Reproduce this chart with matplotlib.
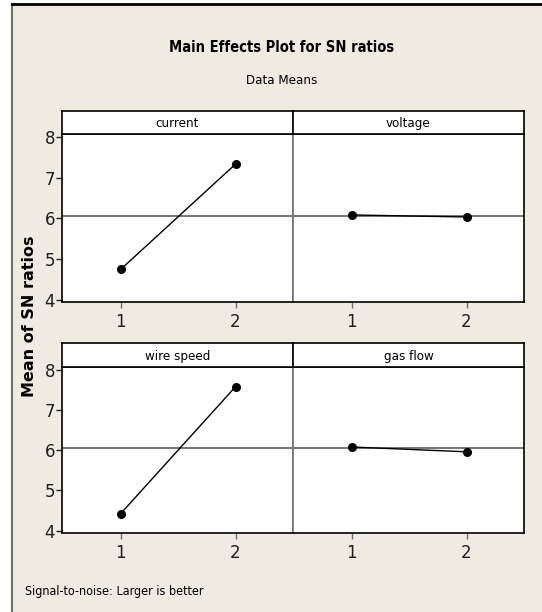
import matplotlib.pyplot as plt
from matplotlib.patches import Rectangle
from matplotlib.lines import Line2D

# Data
levels = [1, 2]
factors = ['current', 'voltage', 'wire speed', 'gas flow']
current = [4.74, 7.33]
voltage = [6.08, 6.03]
wire_speed = [4.42, 7.58]
gas_flow = [6.08, 5.96]
grand_mean = 6.06
y_ticks = [4, 5, 6, 7, 8]

series = [current, voltage, wire_speed, gas_flow]

W, H = 542, 612
bg = '#EFEBE1'

fig = plt.figure(figsize=(W / 100, H / 100), dpi=100, facecolor='white')

# beige panel with frame lines
fig.patches.append(Rectangle((12 / W, 0), 1 - 12 / W, 1 - 4 / H, transform=fig.transFigure,
                             facecolor=bg, edgecolor='none', zorder=-5))
fig.lines.append(Line2D([12 / W, 12 / W], [0, 1 - 4 / H], transform=fig.transFigure,
                        color='#707070', lw=1.5, zorder=-4))
fig.lines.append(Line2D([12 / W, 1], [1 - 4 / H, 1 - 4 / H], transform=fig.transFigure,
                        color='black', lw=2, zorder=-4))


def px_box(x0, x1, y0, y1):
    # pixel box (top-left origin) to figure fraction rect
    return [x0 / W, 1 - y1 / H, (x1 - x0) / W, (y1 - y0) / H]


cols = [(62, 293), (293, 524)]
rows = [((111, 134), (134, 302)), ((343, 367), (367, 533))]

for i, (name, vals) in enumerate(zip(factors, series)):
    r, c = divmod(i, 2)
    (sy0, sy1), (ay0, ay1) = rows[r]
    x0, x1 = cols[c]

    ax = fig.add_axes(px_box(x0, x1, ay0, ay1), zorder=2)
    ax.set_facecolor('white')
    ax.axhline(grand_mean, color='#6a6a6a', lw=1.3, zorder=1)
    ax.plot(levels, vals, color='black', lw=1.0, marker='o', markersize=5.5, zorder=3)
    ax.set_xlim(0.49, 2.5)
    ax.set_ylim(3.94, 8.07)
    ax.set_xticks(levels)
    ax.set_xticklabels([str(l) for l in levels])
    ax.set_yticks(y_ticks)
    ax.tick_params(axis='x', direction='out', length=4, width=1, color='#707070',
                   labelsize=12, labelcolor='#202020', pad=4)
    ax.tick_params(axis='y', direction='out', length=4, width=1, color='#202020',
                   labelsize=12, labelcolor='#202020', pad=1)
    for s in ax.spines.values():
        s.set_color('black')
        s.set_linewidth(1.2)
    if c == 0:
        ax.spines['right'].set_color('#707070')
    else:
        ax.spines['left'].set_color('#707070')
        ax.set_yticklabels([])
        ax.tick_params(axis='y', length=0)

    sax = fig.add_axes(px_box(x0, x1, sy0, sy1), zorder=2)
    sax.set_facecolor('white')
    sax.set_xticks([])
    sax.set_yticks([])
    for s in sax.spines.values():
        s.set_color('black')
        s.set_linewidth(1.2)
    if c == 0:
        sax.spines['right'].set_color('#404040')
    sax.text(0.5, 0.45, name, ha='center', va='center', fontsize=9.5,
             fontstretch='condensed', color='black')

fig.text(282 / W, 1 - 48 / H, 'Main Effects Plot for SN ratios', ha='center', va='center',
         fontsize=10.5, fontweight='bold', fontstretch='condensed')
fig.text(282 / W, 1 - 80 / H, 'Data Means', ha='center', va='center',
         fontsize=9.5, fontstretch='condensed')
fig.text(30 / W, 1 - 316 / H, 'Mean of SN ratios', ha='center', va='center',
         rotation=90, fontsize=11.5, fontweight='bold')
fig.text(25 / W, 1 - 592 / H, 'Signal-to-noise: Larger is better', ha='left', va='center',
         fontsize=9, fontstretch='condensed')

fig.savefig('out.png', dpi=100, facecolor=fig.get_facecolor())
